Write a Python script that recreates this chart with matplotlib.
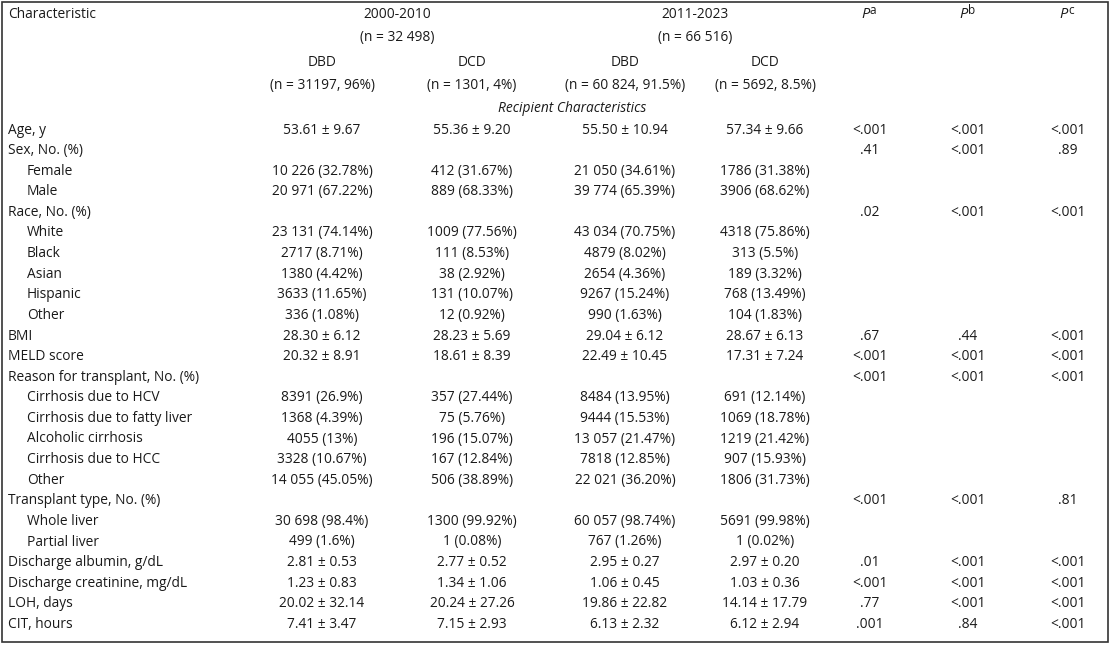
import matplotlib
matplotlib.use("Agg")
import matplotlib.pyplot as plt
from matplotlib.patches import Rectangle

W, H = 1112, 646
characteristics = ["Age, y", "Sex, No. (%)", "Female", "Male", "Race, No. (%)", "White", "Black", "Asian",
                   "Hispanic", "Other", "BMI", "MELD score", "Reason for transplant, No. (%)",
                   "Cirrhosis due to HCV", "Cirrhosis due to fatty liver", "Alcoholic cirrhosis",
                   "Cirrhosis due to HCC", "Other", "Transplant type, No. (%)", "Whole liver", "Partial liver",
                   "Discharge albumin, g/dL", "Discharge creatinine, mg/dL", "LOH, days", "CIT, hours"]
indented = [False, False, True, True, False, True, True, True, True, True, False, False, False,
            True, True, True, True, True, False, True, True, False, False, False, False]
dbd_2000 = ["53.61 ± 9.67", "", "10 226 (32.78%)", "20 971 (67.22%)", "", "23 131 (74.14%)", "2717 (8.71%)",
            "1380 (4.42%)", "3633 (11.65%)", "336 (1.08%)", "28.30 ± 6.12", "20.32 ± 8.91", "",
            "8391 (26.9%)", "1368 (4.39%)", "4055 (13%)", "3328 (10.67%)", "14 055 (45.05%)", "",
            "30 698 (98.4%)", "499 (1.6%)", "2.81 ± 0.53", "1.23 ± 0.83", "20.02 ± 32.14", "7.41 ± 3.47"]
dcd_2000 = ["55.36 ± 9.20", "", "412 (31.67%)", "889 (68.33%)", "", "1009 (77.56%)", "111 (8.53%)",
            "38 (2.92%)", "131 (10.07%)", "12 (0.92%)", "28.23 ± 5.69", "18.61 ± 8.39", "",
            "357 (27.44%)", "75 (5.76%)", "196 (15.07%)", "167 (12.84%)", "506 (38.89%)", "",
            "1300 (99.92%)", "1 (0.08%)", "2.77 ± 0.52", "1.34 ± 1.06", "20.24 ± 27.26", "7.15 ± 2.93"]
dbd_2011 = ["55.50 ± 10.94", "", "21 050 (34.61%)", "39 774 (65.39%)", "", "43 034 (70.75%)", "4879 (8.02%)",
            "2654 (4.36%)", "9267 (15.24%)", "990 (1.63%)", "29.04 ± 6.12", "22.49 ± 10.45", "",
            "8484 (13.95%)", "9444 (15.53%)", "13 057 (21.47%)", "7818 (12.85%)", "22 021 (36.20%)", "",
            "60 057 (98.74%)", "767 (1.26%)", "2.95 ± 0.27", "1.06 ± 0.45", "19.86 ± 22.82", "6.13 ± 2.32"]
dcd_2011 = ["57.34 ± 9.66", "", "1786 (31.38%)", "3906 (68.62%)", "", "4318 (75.86%)", "313 (5.5%)",
            "189 (3.32%)", "768 (13.49%)", "104 (1.83%)", "28.67 ± 6.13", "17.31 ± 7.24", "",
            "691 (12.14%)", "1069 (18.78%)", "1219 (21.42%)", "907 (15.93%)", "1806 (31.73%)", "",
            "5691 (99.98%)", "1 (0.02%)", "2.97 ± 0.20", "1.03 ± 0.36", "14.14 ± 17.79", "6.12 ± 2.94"]
p_a = ["<.001", ".41", "", "", ".02", "", "", "", "", "", ".67", "<.001", "<.001", "", "", "", "", "",
       "<.001", "", "", ".01", "<.001", ".77", ".001"]
p_b = ["<.001", "<.001", "", "", "<.001", "", "", "", "", "", ".44", "<.001", "<.001", "", "", "", "", "",
       "<.001", "", "", "<.001", "<.001", "<.001", ".84"]
p_c = ["<.001", ".89", "", "", "<.001", "", "", "", "", "", "<.001", "<.001", "<.001", "", "", "", "", "",
       ".81", "", "", "<.001", "<.001", "<.001", "<.001"]
p_headers = [(870, "a"), (968, "b"), (1068, "c")]

FONT = ["Open Sans", "DejaVu Sans"]
FS = 9.9
fig = plt.figure(figsize=(W / 100, H / 100), dpi=100)
fig.patch.set_facecolor("white")

def T(x, y, s, ha="center", fs=FS, **kw):
    fig.text(x / W, 1 - y / H, s, ha=ha, va="center", fontsize=fs, family=FONT, color="#1a1a1a", **kw)

fig.add_artist(Rectangle((2 / W, 1 - 642 / H), 1106 / W, 640 / H, transform=fig.transFigure,
                         fill=False, lw=1.2, ec="#333333"))

T(8, 14, "Characteristic", ha="left")
T(397, 14, "2000-2010"); T(397, 37, "(n = 32 498)")
T(695, 14, "2011-2023"); T(695, 37, "(n = 66 516)")
T(322, 62, "DBD"); T(322, 85, "(n = 31197, 96%)")
T(472, 62, "DCD"); T(472, 85, "(n = 1301, 4%)")
T(625, 62, "DBD"); T(625, 85, "(n = 60 824, 91.5%)")
T(765, 62, "DCD"); T(765, 85, "(n = 5692, 8.5%)")
for x, sup in p_headers:
    T(x, 15, "P", ha="right", fs=10.5, fontstyle="italic")
    T(x, 10, sup, ha="left", fs=8.5)
T(572, 109, "Recipient Characteristics", fontstyle="italic")

cols = [(322, dbd_2000), (472, dcd_2000), (625, dbd_2011), (765, dcd_2011),
        (870, p_a), (968, p_b), (1068, p_c)]
for i, name in enumerate(characteristics):
    y = 130 + i * 20.6
    T(27 if indented[i] else 8, y, name, ha="left")
    for x, arr in cols:
        if arr[i]:
            T(x, y, arr[i])

fig.savefig("out.png", dpi=100, facecolor="white")
